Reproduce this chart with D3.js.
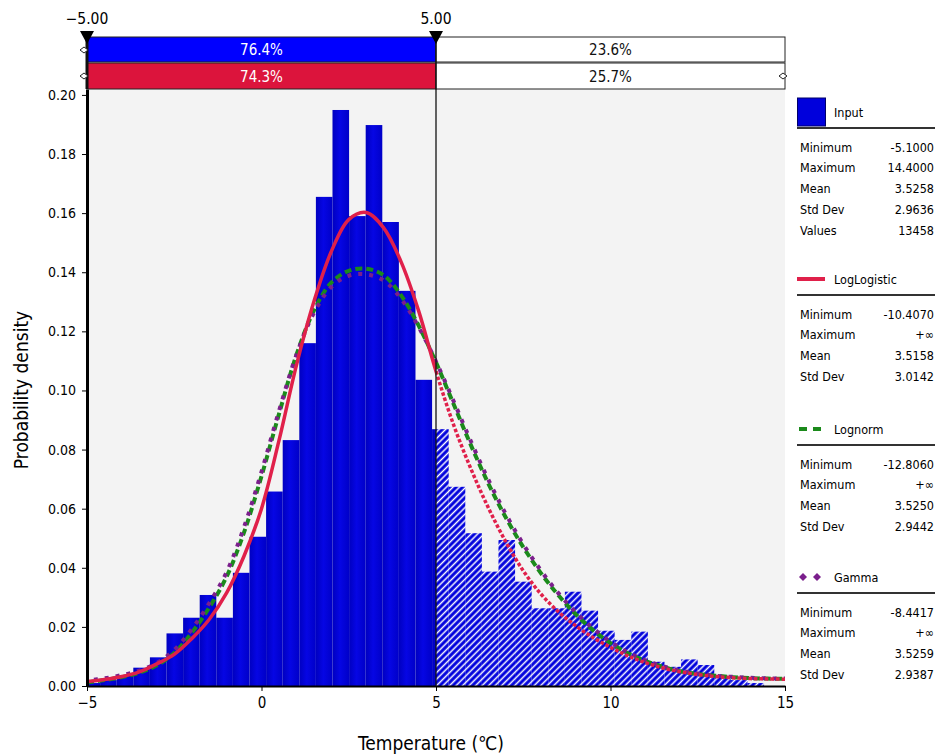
<!DOCTYPE html>
<html>
<head>
<meta charset="utf-8">
<script src="https://cdn.jsdelivr.net/npm/d3@7"></script>
<style>
  body { margin: 0; background: #fff; }
  svg { display: block; font-family: "DejaVu Sans Condensed", "DejaVu Sans", sans-serif; }
</style>
</head>
<body>
<div id="chart"></div>
<script>
// Histogram of the input: 41 equal bins between min and max
const histMin = -5.1, histMax = 14.4;
const density = [
  0.0010, 0.0020, 0.0035, 0.0062, 0.0097, 0.0178, 0.0231, 0.0308, 0.0231, 0.0383,
  0.0505, 0.0658, 0.0832, 0.1160, 0.1655, 0.1949, 0.1590, 0.1898, 0.1570, 0.1337,
  0.1036, 0.0869, 0.0674, 0.0517, 0.0387, 0.0494, 0.0353, 0.0263, 0.0263, 0.0319,
  0.0255, 0.0187, 0.0156, 0.0184, 0.0082, 0.0065, 0.0090, 0.0071, 0.0030, 0.0020,
  0.0010
];

// Fitted curves
const curveX = [
  -5, -4.5, -4, -3.5, -3, -2.5, -2, -1.5, -1, -0.5, 0, 0.5, 1, 1.5, 2, 2.5, 3, 3.5, 4, 4.5,
  5, 5.5, 6, 6.5, 7, 7.5, 8, 8.5, 9, 9.5, 10, 10.5, 11, 11.5, 12, 12.5, 13, 13.5, 14, 14.5, 15
];
const logLogistic = [
  0.0015, 0.0022, 0.0032, 0.0048, 0.0075, 0.0107, 0.0160, 0.0225, 0.0315, 0.0440,
  0.0600, 0.0830, 0.1085, 0.1300, 0.1470, 0.1578, 0.1602, 0.1550, 0.1435, 0.1270,
  0.1065, 0.0885, 0.0735, 0.0603, 0.0488, 0.0390, 0.0312, 0.0252, 0.0204, 0.0164,
  0.0131, 0.0102, 0.0079, 0.0061, 0.0048, 0.0039, 0.0032, 0.0028, 0.0025, 0.0024,
  0.0023
];
const lognorm = [
  0.0012, 0.0020, 0.0030, 0.0045, 0.0070, 0.0112, 0.0180, 0.0265, 0.0370, 0.0520,
  0.0710, 0.0920, 0.1120, 0.1270, 0.1365, 0.1405, 0.1412, 0.1390, 0.1322, 0.1220,
  0.1095, 0.0955, 0.0815, 0.0685, 0.0570, 0.0470, 0.0383, 0.0308, 0.0243, 0.0189,
  0.0145, 0.0111, 0.0085, 0.0065, 0.0050, 0.0041, 0.0035, 0.0030, 0.0027, 0.0025,
  0.0024
];
const gamma = [
  0.0018, 0.0026, 0.0037, 0.0052, 0.0078, 0.0122, 0.0192, 0.0280, 0.0385, 0.0538,
  0.0725, 0.0930, 0.1120, 0.1262, 0.1350, 0.1388, 0.1393, 0.1372, 0.1310, 0.1215,
  0.1098, 0.0965, 0.0828, 0.0698, 0.0582, 0.0480, 0.0392, 0.0315, 0.0250, 0.0195,
  0.0150, 0.0114, 0.0087, 0.0067, 0.0052, 0.0042, 0.0035, 0.0031, 0.0028, 0.0026,
  0.0025
];

// Delimiters and the shares on each side
const delimiters = [-5, 5];
const inputShares = ["76.4%", "23.6%"];
const fitShares = ["74.3%", "25.7%"];

const xTicks = [-5, 0, 5, 10, 15];
const yTicks = [0, 0.02, 0.04, 0.06, 0.08, 0.10, 0.12, 0.14, 0.16, 0.18, 0.20];

// Legend statistics
const statLabels = ["Minimum", "Maximum", "Mean", "Std Dev", "Values"];
const inputStats = ["-5.1000", "14.4000", "3.5258", "2.9636", "13458"];
const logLogisticStats = ["-10.4070", "+\u221E", "3.5158", "3.0142"];
const lognormStats = ["-12.8060", "+\u221E", "3.5250", "2.9442"];
const gammaStats = ["-8.4417", "+\u221E", "3.5259", "2.9387"];

const blue = "#0000dc";
const red = "#e0204a";
const green = "#1b8a1b";
const purple = "#7b1f8c";

const width = 937, height = 756;
const x = d3.scaleLinear().domain([-5, 15]).range([87, 785]);
const y = d3.scaleLinear().domain([0, 0.202]).range([686, 89]);
const bin = d3.scaleLinear().domain([0, density.length]).range([histMin, histMax]);

const svg = d3.select("#chart").append("svg")
    .attr("width", width)
    .attr("height", height);

const defs = svg.append("defs");

defs.append("clipPath").attr("id", "clipLeft")
  .append("rect")
    .attr("x", x(-5)).attr("y", y.range()[1])
    .attr("width", x(delimiters[1]) - x(-5)).attr("height", y(0) - y.range()[1]);

defs.append("clipPath").attr("id", "clipRight")
  .append("rect")
    .attr("x", x(delimiters[1])).attr("y", y.range()[1])
    .attr("width", x(15) - x(delimiters[1])).attr("height", y(0) - y.range()[1]);

defs.append("clipPath").attr("id", "clipPlot")
  .append("rect")
    .attr("x", x(-5)).attr("y", y.range()[1])
    .attr("width", x(15) - x(-5)).attr("height", y(0) - y.range()[1]);

const grad = defs.append("linearGradient").attr("id", "barGrad")
    .attr("x1", 0).attr("x2", 1).attr("y1", 0).attr("y2", 0);
grad.append("stop").attr("offset", "0%").attr("stop-color", "#0000c0");
grad.append("stop").attr("offset", "45%").attr("stop-color", "#0606e4");
grad.append("stop").attr("offset", "100%").attr("stop-color", "#0000c8");

const hatch = defs.append("pattern").attr("id", "hatch")
    .attr("patternUnits", "userSpaceOnUse")
    .attr("width", 4.6).attr("height", 4.6)
    .attr("patternTransform", "rotate(45)");
hatch.append("rect").attr("width", 4.6).attr("height", 4.6).attr("fill", blue);
hatch.append("line")
    .attr("x1", 2.3).attr("y1", 0).attr("x2", 2.3).attr("y2", 4.6)
    .attr("stroke", "#fff").attr("stroke-width", 1.5);

// plot background
svg.append("rect")
    .attr("x", x(-5)).attr("y", y.range()[1])
    .attr("width", x(15) - x(-5)).attr("height", y(0) - y.range()[1])
    .attr("fill", "#f3f3f3");

// histogram bars, solid left of the delimiter, hatched right of it
const bars = density.map((d, i) => ({ x0: bin(i), x1: bin(i + 1), v: d }));

svg.append("g").attr("clip-path", "url(#clipLeft)")
  .selectAll("rect").data(bars).join("rect")
    .attr("x", d => x(d.x0))
    .attr("y", d => y(d.v))
    .attr("width", d => x(d.x1) - x(d.x0))
    .attr("height", d => y(0) - y(d.v))
    .attr("fill", "url(#barGrad)");

svg.append("g").attr("clip-path", "url(#clipRight)")
  .selectAll("rect").data(bars).join("rect")
    .attr("x", d => x(d.x0))
    .attr("y", d => y(d.v))
    .attr("width", d => x(d.x1) - x(d.x0))
    .attr("height", d => y(0) - y(d.v))
    .attr("fill", "url(#hatch)");

// fitted curves
const line = d3.line()
    .x((d, i) => x(curveX[i]))
    .y(d => y(d))
    .curve(d3.curveCatmullRom.alpha(0.5));

const curves = svg.append("g").attr("clip-path", "url(#clipPlot)");

curves.append("path")
    .attr("d", line(lognorm))
    .attr("fill", "none")
    .attr("stroke", green)
    .attr("stroke-width", 4)
    .attr("stroke-dasharray", "7,4");

curves.append("path")
    .attr("d", line(gamma))
    .attr("fill", "none")
    .attr("stroke", purple)
    .attr("stroke-width", 4)
    .attr("stroke-dasharray", "4,7")
    .attr("stroke-dashoffset", 4);

curves.append("path")
    .attr("clip-path", "url(#clipLeft)")
    .attr("d", line(logLogistic))
    .attr("fill", "none")
    .attr("stroke", red)
    .attr("stroke-width", 3.5);

curves.append("path")
    .attr("clip-path", "url(#clipRight)")
    .attr("d", line(logLogistic))
    .attr("fill", "none")
    .attr("stroke", red)
    .attr("stroke-width", 3.5)
    .attr("stroke-dasharray", "3.5,2");

// axes
const yAxis = svg.append("g")
    .attr("transform", `translate(${x(-5)},0)`)
    .call(d3.axisLeft(y).tickValues(yTicks).tickFormat(d3.format(".2f")).tickSize(5).tickSizeOuter(0).tickPadding(6));
yAxis.select(".domain").attr("stroke-width", 3);
yAxis.selectAll(".tick text").attr("font-size", 14).attr("fill", "#000")
    .attr("font-family", "DejaVu Sans Condensed, DejaVu Sans, sans-serif");

const xAxis = svg.append("g")
    .attr("transform", `translate(0,${y(0)})`)
    .call(d3.axisBottom(x).tickValues(xTicks).tickFormat(d3.format("d")).tickSize(5).tickSizeOuter(0).tickPadding(6));
xAxis.select(".domain").attr("stroke-width", 2);
xAxis.selectAll(".tick text").attr("font-size", 15).attr("fill", "#000")
    .attr("font-family", "DejaVu Sans Condensed, DejaVu Sans, sans-serif");

svg.append("text")
    .attr("x", 431).attr("y", 750)
    .attr("text-anchor", "middle")
    .attr("font-size", 19)
    .text("Temperature (\u2103)");

svg.append("text")
    .attr("transform", "translate(28,390) rotate(-90)")
    .attr("text-anchor", "middle")
    .attr("font-size", 19)
    .text("Probability density");

// delimiter bars above the plot
const rows = [
  { top: 37, h: 25, fill: "#0000ff", shares: inputShares },
  { top: 63, h: 26, fill: "#dc143c", shares: fitShares }
];
rows.forEach(r => {
  const g = svg.append("g");
  g.append("rect")
      .attr("x", x(delimiters[0])).attr("y", r.top)
      .attr("width", x(delimiters[1]) - x(delimiters[0])).attr("height", r.h)
      .attr("fill", r.fill).attr("stroke", "#222").attr("stroke-width", 1);
  g.append("rect")
      .attr("x", x(delimiters[1])).attr("y", r.top)
      .attr("width", x(15) - x(delimiters[1])).attr("height", r.h)
      .attr("fill", "#fff").attr("stroke", "#222").attr("stroke-width", 1);
  g.append("text")
      .attr("x", (x(delimiters[0]) + x(delimiters[1])) / 2).attr("y", r.top + r.h / 2 + 5.5)
      .attr("text-anchor", "middle").attr("font-size", 15).attr("fill", "#fff")
      .text(r.shares[0]);
  g.append("text")
      .attr("x", (x(delimiters[1]) + x(15)) / 2).attr("y", r.top + r.h / 2 + 5.5)
      .attr("text-anchor", "middle").attr("font-size", 15).attr("fill", "#111")
      .text(r.shares[1]);
});

// delimiter line through the plot
svg.append("line")
    .attr("x1", x(delimiters[1])).attr("x2", x(delimiters[1]))
    .attr("y1", 37).attr("y2", y(0))
    .attr("stroke", "#111").attr("stroke-width", 1.3);
svg.append("line")
    .attr("x1", x(delimiters[0])).attr("x2", x(delimiters[0]))
    .attr("y1", 37).attr("y2", y.range()[1])
    .attr("stroke", "#111").attr("stroke-width", 3);

// delimiter markers and labels
delimiters.forEach(d => {
  const cx = x(d);
  svg.append("path")
      .attr("d", `M${cx - 7},31 L${cx + 7},31 L${cx},44 Z`)
      .attr("fill", "#000");
  svg.append("text")
      .attr("x", cx).attr("y", 24)
      .attr("text-anchor", "middle").attr("font-size", 15.5)
      .text(d3.format(".2f")(d));
});

// small diamond handles
[[x(-5) - 3, 50], [x(-5) - 3, 76], [x(15) - 2, 76]].forEach(p => {
  svg.append("path")
      .attr("d", `M${p[0] - 4},${p[1]} L${p[0]},${p[1] - 3} L${p[0] + 4},${p[1]} L${p[0]},${p[1] + 3} Z`)
      .attr("fill", "#fff").attr("stroke", "#222").attr("stroke-width", 1);
});

// legend panel
const legend = [
  { name: "Input", stats: inputStats, cy: 112, kind: "box" },
  { name: "LogLogistic", stats: logLogisticStats, cy: 279, kind: "solid" },
  { name: "Lognorm", stats: lognormStats, cy: 429, kind: "dash" },
  { name: "Gamma", stats: gammaStats, cy: 577, kind: "dot" }
];
const lx = 797, rx = 934;
legend.forEach(item => {
  const g = svg.append("g").attr("font-size", 12.5);
  if (item.kind === "box") {
    g.append("rect").attr("x", lx + 0.5).attr("y", item.cy - 14).attr("width", 28).attr("height", 28)
        .attr("fill", blue).attr("stroke", "#00006a").attr("stroke-width", 1);
  } else if (item.kind === "solid") {
    g.append("line").attr("x1", lx).attr("x2", lx + 28).attr("y1", item.cy).attr("y2", item.cy)
        .attr("stroke", red).attr("stroke-width", 4);
  } else if (item.kind === "dash") {
    g.append("line").attr("x1", lx + 2).attr("x2", lx + 25).attr("y1", item.cy).attr("y2", item.cy)
        .attr("stroke", green).attr("stroke-width", 4).attr("stroke-dasharray", "8,6");
  } else {
    [lx + 6, lx + 20].forEach(cx => {
      g.append("path")
          .attr("d", `M${cx - 4},${item.cy} L${cx},${item.cy - 4} L${cx + 4},${item.cy} L${cx},${item.cy + 4} Z`)
          .attr("fill", purple);
    });
  }
  g.append("text").attr("x", lx + 37).attr("y", item.cy + 4.5).text(item.name);
  g.append("line").attr("x1", lx).attr("x2", rx + 1).attr("y1", item.cy + 16).attr("y2", item.cy + 16)
      .attr("stroke", "#333").attr("stroke-width", 2);
  item.stats.forEach((v, i) => {
    const ty = item.cy + 35 + i * 20.8 + 4.5;
    g.append("text").attr("x", lx + 3).attr("y", ty).text(statLabels[i]);
    g.append("text").attr("x", rx).attr("y", ty).attr("text-anchor", "end").text(v);
  });
});
</script>
</body>
</html>
